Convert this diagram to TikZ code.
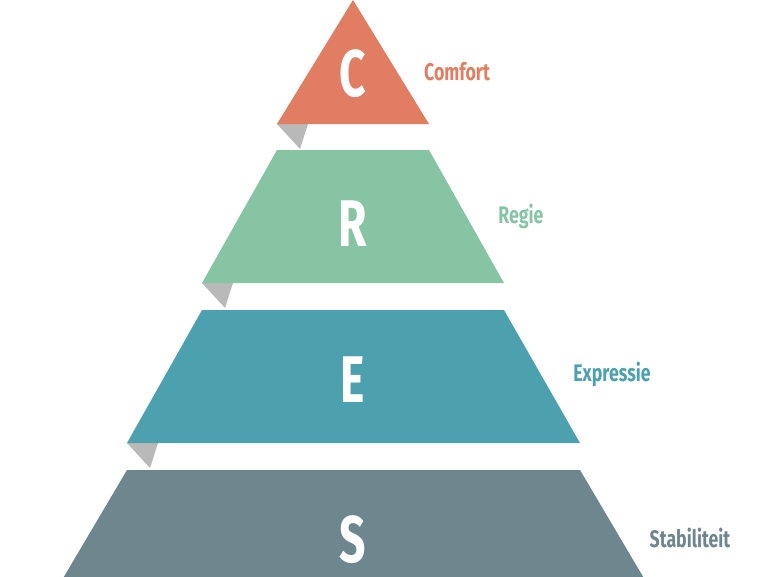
\documentclass[tikz,border=0pt]{standalone}
\usepackage{fontspec}
\setmainfont{Fira Sans}
\begin{document}
\begin{tikzpicture}[x=1pt,y=-1pt,
  lbl/.style={font=\bfseries\fontsize{24}{26}\selectfont, xscale=0.74, anchor=center},
  big/.style={text=white, font=\bfseries\fontsize{66}{70}\selectfont, xscale=0.7},
  fold/.style={fill=gray!55}]
\useasboundingbox (0,0) rectangle (768,576);
\definecolor{cO}{HTML}{E07D63}
\definecolor{cG}{HTML}{86C4A4}
\definecolor{cT}{HTML}{4DA1AE}
\definecolor{cS}{HTML}{6E868E}
\fill[fold] (277,124) -- (308,124) -- (300,149) -- cycle;
\fill[fold] (202,283) -- (233,283) -- (225,308) -- cycle;
\fill[fold] (127,443) -- (158,443) -- (150,468) -- cycle;
\fill[cO] (353,0) -- (429,124) -- (277,124) -- cycle;
\fill[cG] (277,150) -- (429,150) -- (504,283) -- (202,283) -- cycle;
\fill[cT] (202,310) -- (504,310) -- (580,443) -- (127,443) -- cycle;
\fill[cS] (127,470) -- (580,470) -- (645,580) -- (62,580) -- cycle;
\node[big] (c) at (353,74) {C};
\node[big] (r) at (353,224) {R};
\node[big] (e) at (353,380) {E};
\node[big] (s) at (353,540) {S};
\node[lbl,text=cO] (lc) at (457,72) {Comfort};
\node[lbl,text=cG] (lr) at (521,216) {Regie};
\node[lbl,text=cT] (le) at (612,374) {Expressie};
\node[lbl,text=cS] (ls) at (690,538) {Stabiliteit};
\end{tikzpicture}
\end{document}
